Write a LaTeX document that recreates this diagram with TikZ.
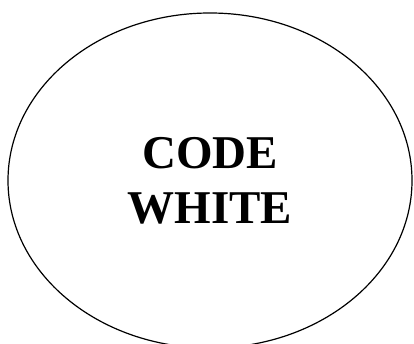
\documentclass[tikz,border=0pt]{standalone}
\usepackage{fontspec}
\setmainfont{Liberation Serif}
\usetikzlibrary{shapes.geometric}
\tikzset{
  blob/.style={draw=black,ellipse,line width=1.2pt,inner sep=0pt,
    minimum width=404pt,minimum height=335pt,align=center,
    font=\fontsize{47}{55}\selectfont\bfseries},
}
\begin{document}
\begin{tikzpicture}[x=1pt,y=1pt]
  \useasboundingbox (0,0) rectangle (414,344);
  \clip (0,0) rectangle (414,344);
  % the one label
  \node[blob] (codewhite) at (210,163.5) {CODE\\WHITE};
\end{tikzpicture}
\end{document}
